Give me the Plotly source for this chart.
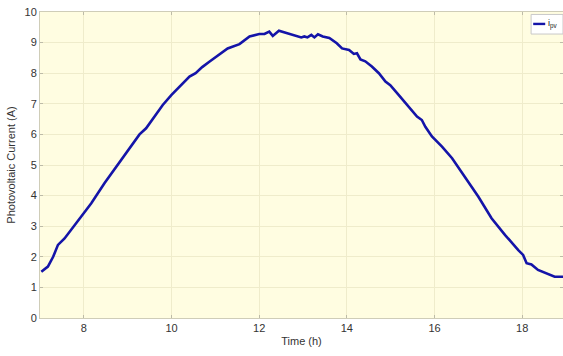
import plotly.graph_objects as go

time_h = [7.03, 7.18, 7.30, 7.41, 7.56, 7.71, 7.94, 8.17, 8.47, 8.77, 9.08, 9.27, 9.42,
          9.60, 9.80, 10.00, 10.26, 10.41, 10.55, 10.70, 10.87, 11.09, 11.28, 11.55, 11.78,
          12.00, 12.12, 12.23, 12.31, 12.45, 12.65, 12.84, 12.96, 13.03, 13.10, 13.19,
          13.26, 13.34, 13.45, 13.60, 13.77, 13.89, 14.05, 14.16, 14.23, 14.31, 14.42, 14.57,
          14.73, 14.88, 14.99, 15.18, 15.41, 15.60, 15.71, 15.79, 15.94, 16.17, 16.40,
          16.70, 17.00, 17.30, 17.61, 17.91, 18.02, 18.10, 18.21, 18.36, 18.59, 18.74, 18.93]
i_pv = [1.51, 1.68, 2.00, 2.39, 2.60, 2.88, 3.31, 3.75, 4.40, 5.00, 5.60, 6.00, 6.20,
        6.58, 6.96, 7.29, 7.67, 7.89, 8.00, 8.20, 8.38, 8.60, 8.81, 8.95, 9.20,
        9.28, 9.28, 9.36, 9.22, 9.39, 9.30, 9.20, 9.17, 9.20, 9.17, 9.25,
        9.17, 9.27, 9.20, 9.15, 8.98, 8.81, 8.76, 8.63, 8.65, 8.45, 8.39, 8.22,
        8.00, 7.73, 7.61, 7.29, 6.90, 6.58, 6.47, 6.25, 5.93, 5.60, 5.22,
        4.57, 3.96, 3.26, 2.71, 2.22, 2.06, 1.79, 1.75, 1.57, 1.44, 1.35, 1.35]

x_ticks = [8, 10, 12, 14, 16, 18]
y_ticks = [0, 1, 2, 3, 4, 5, 6, 7, 8, 9, 10]
legend_label = "i<sub>pv</sub>"
line_color = "#1414A8"

fig = go.Figure()
fig.add_trace(go.Scatter(x=time_h, y=i_pv, mode="lines", name=legend_label,
                         showlegend=False,
                         line=dict(color=line_color, width=2.6, shape="linear")))

axis_common = dict(showline=True, linecolor="#CFCDB8", linewidth=1, mirror="ticks",
                   ticks="inside", ticklen=3, tickcolor="#BDBBA8",
                   showgrid=True, gridcolor="#EFECCB", gridwidth=1, zeroline=False,
                   tickfont=dict(family="Liberation Sans, Arial", size=11, color="#333333"))

# compact MATLAB-style legend box
fig.add_shape(type="rect", xref="paper", yref="paper", x0=0.939, x1=1.0, y0=0.928, y1=0.992,
              fillcolor="white", line=dict(color="#C8C8C8", width=1), layer="above")
fig.add_shape(type="line", xref="paper", yref="paper", x0=0.943, x1=0.966, y0=0.961, y1=0.961,
              line=dict(color=line_color, width=2.4), layer="above")
fig.add_annotation(xref="paper", yref="paper", x=0.968, y=0.962, xanchor="left", yanchor="middle",
                   text=legend_label, showarrow=False,
                   font=dict(family="Liberation Sans, Arial", size=9, color="#222222"))

fig.update_layout(
    width=563, height=356,
    margin=dict(l=40, r=0, t=12, b=38),
    paper_bgcolor="white", plot_bgcolor="#FFFDE1",
    font=dict(family="Liberation Sans, Arial", size=11, color="#333333"),
    xaxis=dict(range=[7, 18.93], tickvals=x_ticks,
               title=dict(text="Time (h)", font=dict(size=11), standoff=4), **axis_common),
    yaxis=dict(range=[0, 10], tickvals=y_ticks,
               title=dict(text="Photovoltaic Current (A)", font=dict(size=11), standoff=6),
               **axis_common),
    showlegend=False,
)

fig.write_html("out.html")
